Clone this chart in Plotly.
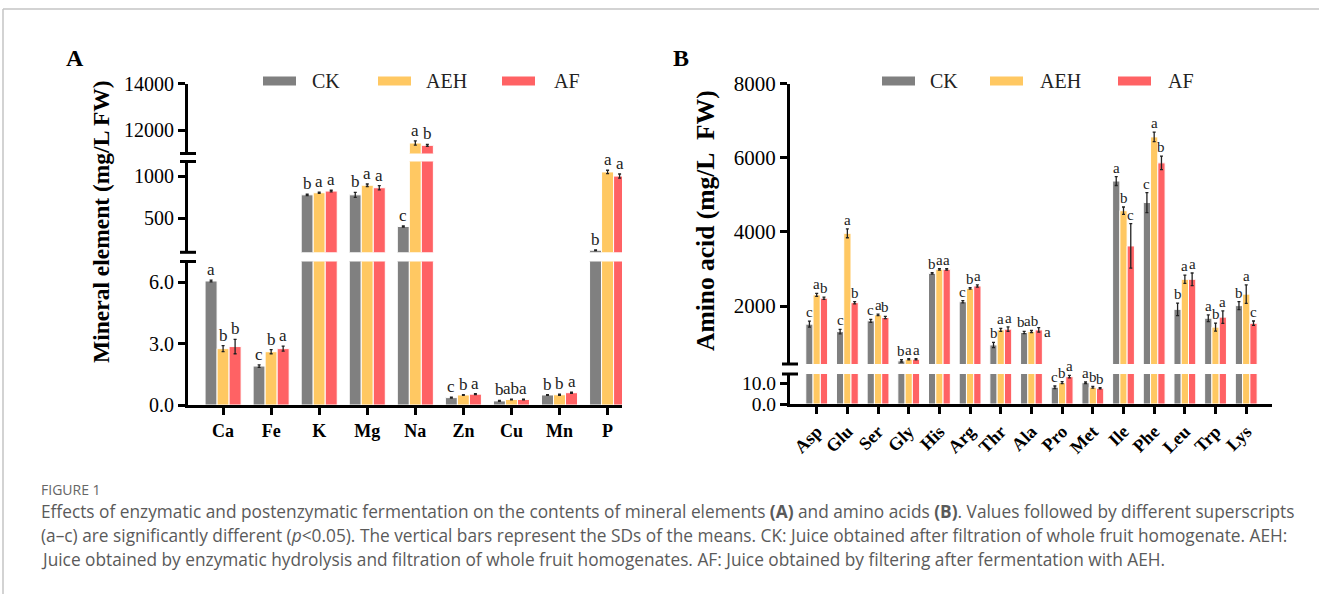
import plotly.graph_objects as go

W, H = 1319, 594

# ---------------- data ----------------
elements = ["Ca", "Fe", "K", "Mg", "Na", "Zn", "Cu", "Mn", "P"]
ck_A = [6.05, 1.90, 780, 780, 400, 0.36, 0.20, 0.49, 115]
aeh_A = [2.75, 2.60, 805, 895, 11450, 0.49, 0.27, 0.50, 1055]
af_A = [2.85, 2.75, 825, 865, 11350, 0.53, 0.27, 0.60, 1005]
ck_err_A = [0.04, 0.06, 8, 30, 8, 0.02, 0.02, 0.02, 5]
aeh_err_A = [0.15, 0.10, 8, 15, 90, 0.02, 0.02, 0.03, 20]
af_err_A = [0.35, 0.12, 10, 25, 40, 0.02, 0.02, 0.03, 25]
let_ck_A = ["a", "c", "b", "b", "c", "c", "b", "b", "b"]
let_aeh_A = ["b", "b", "a", "a", "a", "b", "ab", "b", "a"]
let_af_A = ["b", "a", "a", "a", "b", "a", "a", "a", "a"]

amino = ["Asp", "Glu", "Ser", "Gly", "His", "Arg", "Thr", "Ala", "Pro", "Met",
         "Ile", "Phe", "Leu", "Trp", "Lys"]
ck_B = [1510, 1310, 1600, 520, 2880, 2115, 950, 1285, 8.1, 10.3, 5370, 4790, 1910, 1670, 2010]
aeh_B = [2300, 3960, 1760, 565, 2990, 2475, 1355, 1310, 10.3, 8.1, 4570, 6560, 2720, 1430, 2320]
af_B = [2210, 2090, 1690, 565, 2990, 2540, 1375, 1355, 13.2, 7.6, 3620, 5860, 2720, 1700, 1535]
ck_err_B = [80, 60, 40, 30, 20, 30, 70, 30, 0.6, 0.4, 120, 270, 170, 90, 110]
aeh_err_B = [40, 120, 20, 15, 20, 20, 40, 30, 0.5, 0.4, 100, 130, 110, 110, 250]
af_err_B = [30, 30, 30, 15, 20, 30, 60, 60, 0.6, 0.3, 600, 180, 170, 170, 60]
let_ck_B = ["c", "c", "c", "b", "b", "c", "b", "b", "c", "a", "a", "c", "b", "a", "b"]
let_aeh_B = ["a", "a", "a", "a", "a", "b", "a", "ab", "b", "b", "b", "a", "a", "b", "a"]
let_af_B = ["b", "b", "b", "a", "a", "a", "a", "a", "a", "b", "c", "b", "a", "a", "c"]

series_names = ["CK", "AEH", "AF"]
colors = ["#808080", "#FFC862", "#FF6264"]

SERIF = "Liberation Serif"


def fx(p):
    return p / W


def fy(p):
    return 1 - p / H


fig = go.Figure()

# segments: (yaxis id, lo, hi)
segA = [("y", 0, 7), ("y2", 90, 1180), ("y3", 11000, 14000)]
segB = [("y4", 0, 14.5), ("y5", 436, 8000)]


def add_panel(cats, vals, errs, lets, xid, segs, w, fsize, nudges):
    idx = list(range(len(cats)))
    for k in range(3):
        off = (k - 1.5) * w
        for yid, lo, hi in segs:
            fig.add_trace(go.Bar(
                x=idx, y=vals[k], width=w, offset=off,
                xaxis=xid, yaxis=yid, showlegend=False,
                marker=dict(color=colors[k], line=dict(color="white", width=1)),
                error_y=dict(type="data", array=errs[k], visible=True,
                             color="#222", thickness=1.3, width=1.5),
                name=series_names[k],
            ))
        for i in idx:
            top = vals[k][i] + errs[k][i]
            yid = segs[-1][0]
            for sid, lo, hi in segs:
                if lo <= top <= hi:
                    yid = sid
                    break
            dx, dy = nudges.get((k, i), (0, 0))
            fig.add_annotation(
                x=i + (k - 1) * w, y=top, xref=xid, yref=yid,
                text=lets[k][i], showarrow=False, yanchor="bottom",
                xshift=dx, yshift=-1 + dy,
                font=dict(family=SERIF, size=fsize, color="#222"))


add_panel(elements, [ck_A, aeh_A, af_A], [ck_err_A, aeh_err_A, af_err_A],
          [let_ck_A, let_aeh_A, let_af_A], "x", segA, 0.25, 17, {})
add_panel(amino, [ck_B, aeh_B, af_B], [ck_err_B, aeh_err_B, af_err_B],
          [let_ck_B, let_aeh_B, let_af_B], "x2", segB, 0.237, 15,
          {(0, 7): (-3, 0), (2, 7): (9, -13)})

axis_common = dict(showline=True, linewidth=3, linecolor="black", showgrid=False,
                   zeroline=False, ticks="outside", tickwidth=2.5, ticklen=7,
                   tickcolor="black", automargin=False)

layout = dict(
    width=W, height=H, autosize=False,
    margin=dict(l=0, r=0, t=0, b=0, pad=0, autoexpand=False),
    paper_bgcolor="white", plot_bgcolor="white",
    barmode="overlay", showlegend=False,
    xaxis=dict(domain=[fx(188), fx(622)], range=[-0.73, 8.3], anchor="y",
               tickvals=list(range(len(elements))),
               ticktext=[f"<b>{c}</b>" for c in elements],
               tickfont=dict(family=SERIF, size=18, color="black"),
               **axis_common),
    yaxis=dict(domain=[fy(405), fy(261.5)], range=[0, 7], anchor="x",
               tickvals=[0, 3, 6], ticktext=["0.0", "3.0", "6.0"],
               tickfont=dict(family=SERIF, size=20, color="black"), **axis_common),
    yaxis2=dict(domain=[fy(252.3), fy(161.5)], range=[90, 1180], anchor="x",
                tickvals=[500, 1000], ticktext=["500", "1000"],
                tickfont=dict(family=SERIF, size=20, color="black"), **axis_common),
    yaxis3=dict(domain=[fy(153.5), fy(83.5)], range=[11000, 14000], anchor="x",
                tickvals=[12000, 14000], ticktext=["12000", "14000"],
                tickfont=dict(family=SERIF, size=20, color="black"), **axis_common),
    xaxis2=dict(domain=[fx(790), fx(1272)], range=[-0.87, 14.84], anchor="y4",
                tickvals=list(range(len(amino))),
                ticktext=[f"<b>{c}</b>" for c in amino], tickangle=-45,
                tickfont=dict(family=SERIF, size=18, color="black"),
                **axis_common),
    yaxis4=dict(domain=[fy(404), fy(374)], range=[0, 14.5], anchor="x2",
                tickvals=[0, 10], ticktext=["0.0", "10.0"],
                tickfont=dict(family=SERIF, size=19.5, color="black"), **axis_common),
    yaxis5=dict(domain=[fy(364), fy(83.5)], range=[436, 8000], anchor="x2",
                tickvals=[2000, 4000, 6000, 8000],
                ticktext=["2000", "4000", "6000", "8000"],
                tickfont=dict(family=SERIF, size=21, color="black"), **axis_common),
)
fig.update_layout(**layout)

# axis break marks
shapes = []
for yid, pos, xid in [("y", 1, "x"), ("y2", 0, "x"), ("y2", 1, "x"), ("y3", 0, "x"),
                      ("y4", 1, "x2"), ("y5", 0, "x2")]:
    shapes.append(dict(type="line", xref=f"{xid} domain", yref=f"{yid} domain",
                       xsizemode="pixel", xanchor=0, x0=-8, x1=8, y0=pos, y1=pos,
                       line=dict(color="black", width=3)))

# frame lines
shapes.append(dict(type="line", xref="paper", yref="paper", x0=fx(3), x1=1,
                   y0=fy(9), y1=fy(9), line=dict(color="#c4c4c4", width=1.5)))
shapes.append(dict(type="line", xref="paper", yref="paper", x0=fx(3), x1=fx(3),
                   y0=fy(9), y1=0, line=dict(color="#c4c4c4", width=1.5)))

# legends (drawn)
legA = [(263, 310), (378, 424), (502, 552)]
legB = [(882, 928), (990, 1038), (1118, 1166)]
for legs in (legA, legB):
    for k, (sx, tx) in enumerate(legs):
        shapes.append(dict(type="rect", xref="paper", yref="paper",
                           x0=fx(sx), x1=fx(sx + 33), y0=fy(85.5), y1=fy(76.5),
                           fillcolor=colors[k], line=dict(width=0)))
        fig.add_annotation(x=fx(tx), y=fy(81), xref="paper", yref="paper",
                           text=series_names[k], showarrow=False, xanchor="left",
                           yanchor="middle",
                           font=dict(family=SERIF, size=20, color="#222"))
fig.update_layout(shapes=shapes)

# panel labels and axis titles
fig.add_annotation(x=fx(64), y=fy(58), xref="paper", yref="paper", text="<b>A</b>",
                   showarrow=False, xanchor="left", yanchor="middle",
                   font=dict(family=SERIF, size=24, color="black"))
fig.add_annotation(x=fx(671), y=fy(58), xref="paper", yref="paper", text="<b>B</b>",
                   showarrow=False, xanchor="left", yanchor="middle",
                   font=dict(family=SERIF, size=24, color="black"))
fig.add_annotation(x=fx(101), y=fy(222), xref="paper", yref="paper",
                   text="<b>Mineral element (mg/L FW)</b>", textangle=-90,
                   showarrow=False, xanchor="center", yanchor="middle",
                   font=dict(family=SERIF, size=23.5, color="black"))
fig.add_annotation(x=fx(705), y=fy(221), xref="paper", yref="paper",
                   text="<b>Amino acid (mg/L&nbsp; FW)</b>", textangle=-90,
                   showarrow=False, xanchor="center", yanchor="middle",
                   font=dict(family=SERIF, size=25.5, color="black"))

# caption
CAP = "Open Sans"
fig.add_annotation(x=fx(39), y=fy(489), xref="paper", yref="paper", text="FIGURE 1",
                   showarrow=False, xanchor="left", yanchor="middle",
                   font=dict(family=CAP, size=14, color="#666"))
cap_lines = [
    "Effects of enzymatic and postenzymatic fermentation on the contents of mineral elements <b>(A)</b> and amino acids <b>(B)</b>. Values followed by different superscripts",
    "(a\u2013c) are significantly different (<i>p</i>&lt;0.05). The vertical bars represent the SDs of the means. CK: Juice obtained after filtration of whole fruit homogenate. AEH:",
    "Juice obtained by enzymatic hydrolysis and filtration of whole fruit homogenates. AF: Juice obtained by filtering after fermentation with AEH.",
]
for j, line in enumerate(cap_lines):
    fig.add_annotation(x=fx(39), y=fy(511 + 24 * j), xref="paper", yref="paper",
                       text=line, showarrow=False, xanchor="left", yanchor="middle",
                       font=dict(family=CAP, size=17.3, color="#5a5a5a"))

fig.write_html("out.html")
